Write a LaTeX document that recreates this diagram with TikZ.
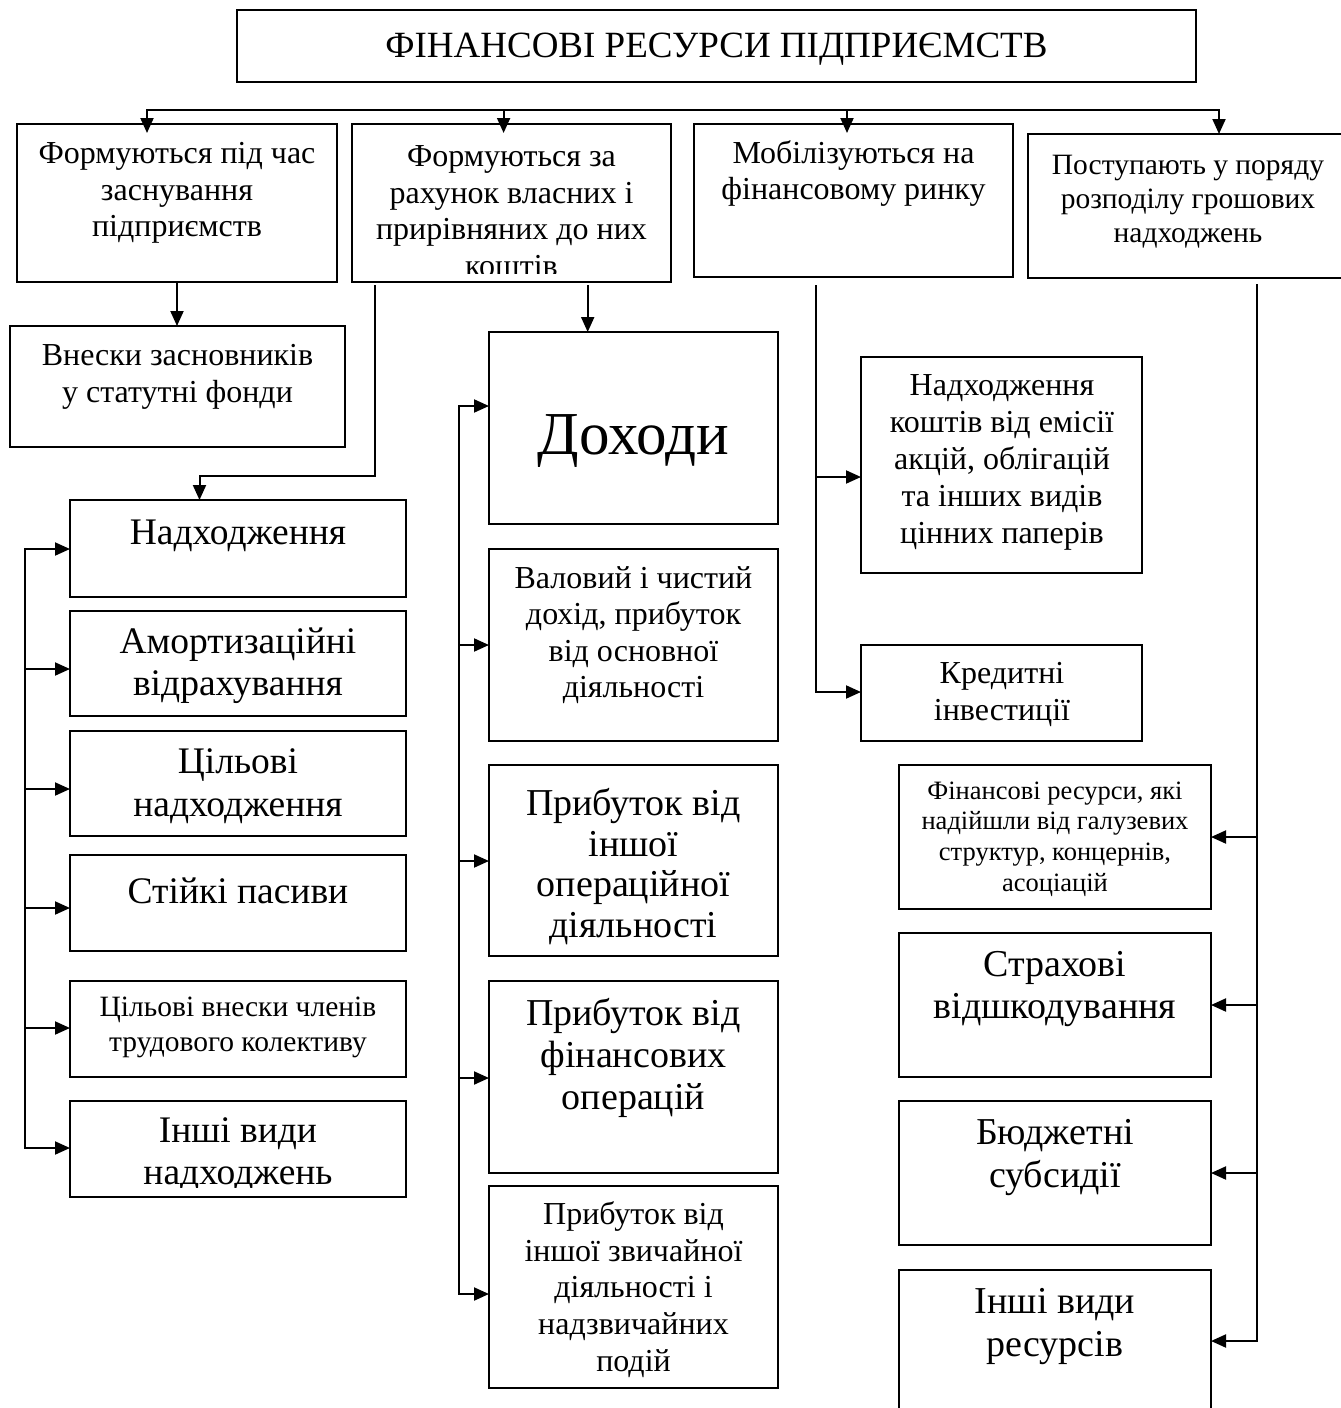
\documentclass[tikz,border=0pt]{standalone}
\usepackage{fontspec}
\setmainfont{Liberation Serif}
\usetikzlibrary{arrows.meta}
\newcommand{\fs}[2]{\fontsize{#1}{#2}\selectfont}
\newcommand{\mybox}[5]{\node[box, minimum width={#4-#2}, minimum height={#5-#3}] (#1) at ({(#2+#4)/2},{(#3+#5)/2}) {};}
\begin{document}
\begin{tikzpicture}[x=1pt,y=-1pt,
  box/.style={draw, line width=2pt, rectangle, inner sep=0pt, outer sep=0pt},
  txt/.style={align=center, inner sep=0pt},
  conn/.style={line width=2pt, line cap=rect},
  arr/.style={line width=2pt, -{Triangle[length=15pt,width=13pt]}},
]
\useasboundingbox (0,0) rectangle (1341,1408);
\fill[white] (0,0) rectangle (1341,1408);
\clip (0,0) rectangle (1341,1408);

% boxes
\mybox{title}{237}{10}{1196}{82}
\mybox{f1}{17}{124}{337}{282}
\mybox{f2}{352}{124}{671}{282}
\mybox{f3}{694}{124}{1013}{277}
\mybox{f4}{1028}{134}{1352}{278}
\mybox{vnes}{10}{326}{345}{447}
\mybox{l1}{70}{500}{406}{597}
\mybox{l2}{70}{611}{406}{716}
\mybox{l3}{70}{731}{406}{836}
\mybox{l4}{70}{855}{406}{951}
\mybox{l5}{70}{981}{406}{1077}
\mybox{l6}{70}{1101}{406}{1197}
\mybox{m0}{489}{332}{778}{524}
\mybox{m1}{489}{549}{778}{741}
\mybox{m2}{489}{765}{778}{956}
\mybox{m3}{489}{981}{778}{1173}
\mybox{m4}{489}{1186}{778}{1388}
\mybox{r1}{861}{357}{1142}{573}
\mybox{r2}{861}{645}{1142}{741}
\mybox{s1}{899}{765}{1211}{909}
\mybox{s2}{899}{933}{1211}{1077}
\mybox{s3}{899}{1101}{1211}{1245}
\mybox{s4}{899}{1270}{1211}{1440}

% texts
\node[txt, anchor=base, font=\fs{37}{42}] (ttitle) at (716.5,57) {ФІНАНСОВІ РЕСУРСИ ПІДПРИЄМСТВ};
\node[txt, font=\fs{32}{36.5}] (t1) at (177,193) {Формуються під час\\заснування\\підприємств};
\begin{scope}
\clip (352,124) rectangle (671,273);
\node[txt, font=\fs{32}{36.5}] (t2) at (511.5,211) {Формуються за\\рахунок власних і\\прирівняних до них\\коштів};
\end{scope}
\node[txt, font=\fs{32}{36.5}] (t3) at (853.5,173.5) {Мобілізуються на\\фінансовому ринку};
\node[txt, font=\fs{29.5}{34}] (t4) at (1188,202) {Поступають у поряду\\розподілу грошових\\надходжень};
\node[txt, font=\fs{32}{37}] (tv) at (177.5,376.5) {Внески засновників\\у статутні фонди};
\node[txt, font=\fs{37.5}{42}] (tl1) at (238,536) {Надходження};
\node[txt, font=\fs{37.5}{42}] (tl2) at (238,666) {Амортизаційні\\відрахування};
\node[txt, font=\fs{37.5}{43}] (tl3) at (238,786) {Цільові\\надходження};
\node[txt, font=\fs{37.5}{42}] (tl4) at (238,891) {Стійкі пасиви};
\node[txt, font=\fs{29.5}{35}] (tl5) at (238,1027.5) {Цільові внески членів\\трудового колективу};
\begin{scope}
\clip (70,1101) rectangle (406,1187);
\node[txt, font=\fs{37.5}{42}] (tl6) at (238,1155) {Інші види\\надходжень};
\end{scope}
\node[txt, anchor=base, font=\fs{61}{66}] (tm0) at (633.5,454) {Доходи};
\node[txt, font=\fs{32}{36.5}] (tm1) at (633.5,635) {Валовий і чистий\\дохід, прибуток\\від основної\\діяльності};
\node[txt, font=\fs{38}{40.5}] (tm2) at (633.5,866.5) {Прибуток від\\іншої\\операційної\\діяльності};
\node[txt, font=\fs{38}{42}] (tm3) at (633.5,1058) {Прибуток від\\фінансових\\операцій};
\node[txt, font=\fs{32}{36.7}] (tm4) at (633.5,1289.5) {Прибуток від\\іншої звичайної\\діяльності і\\надзвичайних\\подій};
\node[txt, font=\fs{32}{37}] (tr1) at (1002,462.5) {Надходження\\коштів від емісії\\акцій, облігацій\\та інших видів\\цінних паперів};
\node[txt, font=\fs{32}{37}] (tr2) at (1002,694) {Кредитні\\інвестиції};
\node[txt, font=\fs{26.5}{30.7}] (ts1) at (1055,839) {Фінансові ресурси, які\\надійшли від галузевих\\структур, концернів,\\асоціацій};
\node[txt, font=\fs{38}{42.6}] (ts2) at (1055,989) {Страхові\\відшкодування};
\node[txt, font=\fs{38}{43}] (ts3) at (1055,1157.5) {Бюджетні\\субсидії};
\node[txt, font=\fs{38}{43}] (ts4) at (1055,1326.5) {Інші види\\ресурсів};

% top bus
\coordinate (bus1) at (147,110);
\coordinate (bus2) at (503.6,110);
\coordinate (bus3) at (847,110);
\coordinate (bus4) at (1219,110);
\draw[conn] (bus1) -- (bus4);
\draw[arr] (bus1) -- ([yshift=-9pt]bus1 |- f1.north);
\draw[arr] (bus2) -- ([yshift=-9pt]bus2 |- f2.north);
\draw[arr] (bus3) -- ([yshift=-9pt]bus3 |- f3.north);
\draw[arr] (bus4) -- (bus4 |- f4.north);

% box 1
\draw[arr] (f1.south) -- (f1.south |- vnes.north);

% box 2 -> left column
\coordinate (c2) at (375,285);
\coordinate (c2a) at (199.5,476);
\draw[arr] (c2) |- (c2a) -- (c2a |- l1.north);
\coordinate (lv1) at (25,549);
\coordinate (lv6) at (25,1148);
\draw[conn] (lv1) -- (lv6);
\draw[arr] (lv1) -- (lv1 -| l1.west);
\draw[arr] (25,669) coordinate (lv2) -- (lv2 -| l2.west);
\draw[arr] (25,789) coordinate (lv3) -- (lv3 -| l3.west);
\draw[arr] (25,908) coordinate (lv4) -- (lv4 -| l4.west);
\draw[arr] (25,1028) coordinate (lv5) -- (lv5 -| l5.west);
\draw[arr] (lv6) -- (lv6 -| l6.west);

% box 2 -> middle column
\coordinate (c2b) at (587.7,285);
\draw[arr] (c2b) -- (c2b |- m0.north);
\coordinate (mv0) at (458.5,406);
\coordinate (mv4) at (458.5,1294);
\draw[conn] (mv0) -- (mv4);
\draw[arr] (mv0) -- (mv0 -| m0.west);
\draw[arr] (458.5,645) coordinate (mv1) -- (mv1 -| m1.west);
\draw[arr] (458.5,861) coordinate (mv2) -- (mv2 -| m2.west);
\draw[arr] (458.5,1078) coordinate (mv3) -- (mv3 -| m3.west);
\draw[arr] (mv4) -- (mv4 -| m4.west);

% box 3 branch
\coordinate (c3) at (816,286);
\coordinate (c3m) at (816,477);
\coordinate (c3e) at (816,692);
\draw[conn] (c3) -- (c3e);
\draw[arr] (c3m) -- (c3m -| r1.west);
\draw[arr] (c3e) -- (c3e -| r2.west);

% box 4 branch
\coordinate (c4) at (1257,285);
\coordinate (c4e) at (1257,1341);
\draw[conn] (c4) -- (c4e);
\draw[arr] (c4 |- s1.east) -- (s1.east);
\draw[arr] (c4 |- s2.east) -- (s2.east);
\draw[arr] (c4 |- s3.east) -- (s3.east);
\draw[arr] (c4e) -- (c4e -| s4.east);
\end{tikzpicture}
\end{document}
